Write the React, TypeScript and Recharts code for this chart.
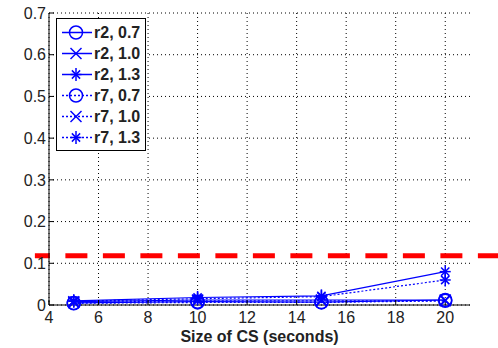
import React from 'react';
import { LineChart, Line, XAxis, YAxis, CartesianGrid, ReferenceLine, Legend } from 'recharts';

const sizes = [5, 10, 15, 20];
const r2_07 = [0.005, 0.008, 0.007, 0.012];
const r2_10 = [0.008, 0.012, 0.012, 0.012];
const r2_13 = [0.01, 0.018, 0.022, 0.08];
const r7_07 = [0.004, 0.006, 0.006, 0.01];
const r7_10 = [0.006, 0.01, 0.01, 0.01];
const r7_13 = [0.009, 0.015, 0.02, 0.06];
const xTicks = [4, 6, 8, 10, 12, 14, 16, 18, 20];
const yTicks = [0, 0.1, 0.2, 0.3, 0.4, 0.5, 0.6, 0.7];
const threshold = 0.118;

const data = sizes.map((s, i) => ({
  size: s,
  r2_07: r2_07[i],
  r2_10: r2_10[i],
  r2_13: r2_13[i],
  r7_07: r7_07[i],
  r7_10: r7_10[i],
  r7_13: r7_13[i],
}));

const BLUE = '#0000ff';
const FONT = '"Liberation Sans", Arial, sans-serif';

type Marker = 'circle' | 'x' | 'star';

function MarkerShape({ cx, cy, kind }: { cx: number; cy: number; kind: Marker }) {
  if (kind === 'circle') {
    return <circle cx={cx} cy={cy} r={6.5} fill="none" stroke={BLUE} strokeWidth={1.5} />;
  }
  const s = 5.5;
  if (kind === 'x') {
    return (
      <g stroke={BLUE} strokeWidth={1.5}>
        <line x1={cx - s} y1={cy - s} x2={cx + s} y2={cy + s} />
        <line x1={cx - s} y1={cy + s} x2={cx + s} y2={cy - s} />
      </g>
    );
  }
  const d = s * 0.75;
  return (
    <g stroke={BLUE} strokeWidth={1.5}>
      <line x1={cx - s} y1={cy} x2={cx + s} y2={cy} />
      <line x1={cx} y1={cy - s - 1} x2={cx} y2={cy + s + 1} />
      <line x1={cx - d} y1={cy - d} x2={cx + d} y2={cy + d} />
      <line x1={cx - d} y1={cy + d} x2={cx + d} y2={cy - d} />
    </g>
  );
}

const series: { key: string; name: string; marker: Marker; dotted: boolean }[] = [
  { key: 'r2_07', name: 'r2, 0.7', marker: 'circle', dotted: false },
  { key: 'r2_10', name: 'r2, 1.0', marker: 'x', dotted: false },
  { key: 'r2_13', name: 'r2, 1.3', marker: 'star', dotted: false },
  { key: 'r7_07', name: 'r7, 0.7', marker: 'circle', dotted: true },
  { key: 'r7_10', name: 'r7, 1.0', marker: 'x', dotted: true },
  { key: 'r7_13', name: 'r7, 1.3', marker: 'star', dotted: true },
];

function LegendBox() {
  return (
    <div
      style={{
        position: 'absolute',
        left: 56,
        top: 18,
        width: 88,
        padding: '3px 0 2px 0',
        border: '1px solid #000',
        background: '#fff',
        fontFamily: FONT,
      }}
    >
      {series.map((s) => (
        <div key={s.key} style={{ display: 'flex', alignItems: 'center', height: 21 }}>
          <svg width={37} height={21} style={{ flex: 'none' }}>
            <line
              x1={5}
              y1={10.5}
              x2={35}
              y2={10.5}
              stroke={BLUE}
              strokeWidth={1.5}
              strokeDasharray={s.dotted ? '2 2' : undefined}
            />
            <MarkerShape cx={19} cy={10.5} kind={s.marker} />
          </svg>
          <span style={{ fontSize: 16, fontWeight: 'bold', color: '#222', whiteSpace: 'nowrap' }}>{s.name}</span>
        </div>
      ))}
    </div>
  );
}

export default function App() {
  return (
    <div style={{ position: 'absolute', left: 0, top: 0, background: '#fff' }}>
      <LineChart width={498} height={348} data={data} margin={{ top: 13, right: 28, left: 0, bottom: 0 }}>
        <CartesianGrid stroke="#000" strokeDasharray="1 3" verticalValues={xTicks} horizontalValues={yTicks} />
        <XAxis
          dataKey="size"
          type="number"
          domain={[4, 21]}
          ticks={xTicks}
          height={43}
          tickSize={-5}
          tickMargin={12}
          axisLine={{ stroke: '#000' }}
          tickLine={{ stroke: '#000' }}
          tick={{ fill: '#222', fontSize: 16, fontFamily: FONT }}
          label={{
            value: 'Size of CS (seconds)',
            position: 'insideBottom',
            offset: 6,
            fill: '#222',
            fontSize: 16,
            fontWeight: 'bold',
            fontFamily: FONT,
          }}
        />
        <XAxis
          xAxisId="top"
          orientation="top"
          dataKey="size"
          type="number"
          domain={[4, 21]}
          ticks={xTicks}
          height={0}
          tickSize={-5}
          tickFormatter={() => ''}
          axisLine={{ stroke: '#000' }}
          tickLine={{ stroke: '#000' }}
        />
        <YAxis
          type="number"
          domain={[0, 0.7]}
          ticks={yTicks}
          width={49}
          tickSize={-5}
          tickMargin={8}
          axisLine={{ stroke: '#000' }}
          tickLine={{ stroke: '#000' }}
          tick={{ fill: '#222', fontSize: 16, fontFamily: FONT }}
        />
        <YAxis
          yAxisId="right"
          orientation="right"
          type="number"
          domain={[0, 0.7]}
          ticks={yTicks}
          width={0}
          tickSize={-5}
          tickFormatter={() => ''}
          axisLine={{ stroke: '#000' }}
          tickLine={{ stroke: '#000' }}
        />
        {series.map((s) => (
          <Line
            key={s.key}
            dataKey={s.key}
            name={s.name}
            type="linear"
            stroke={BLUE}
            strokeWidth={1.2}
            strokeDasharray={s.dotted ? '2 2' : undefined}
            dot={(p: any) => <MarkerShape key={`${s.key}-${p.index}`} cx={p.cx} cy={p.cy} kind={s.marker} />}
            activeDot={false}
            isAnimationActive={false}
          />
        ))}
        <ReferenceLine
          segment={[
            { x: 3.43, y: threshold },
            { x: 22.2, y: threshold },
          ]}
          ifOverflow="visible"
          stroke="#ff0000"
          strokeWidth={5}
          strokeDasharray="22 15.5"
          strokeDashoffset={7}
        />
        <Legend layout="vertical" align="center" verticalAlign="middle" content={() => <LegendBox />} wrapperStyle={{ position: 'absolute', left: 0, top: 0, width: 0, height: 0 }} />
      </LineChart>
    </div>
  );
}
